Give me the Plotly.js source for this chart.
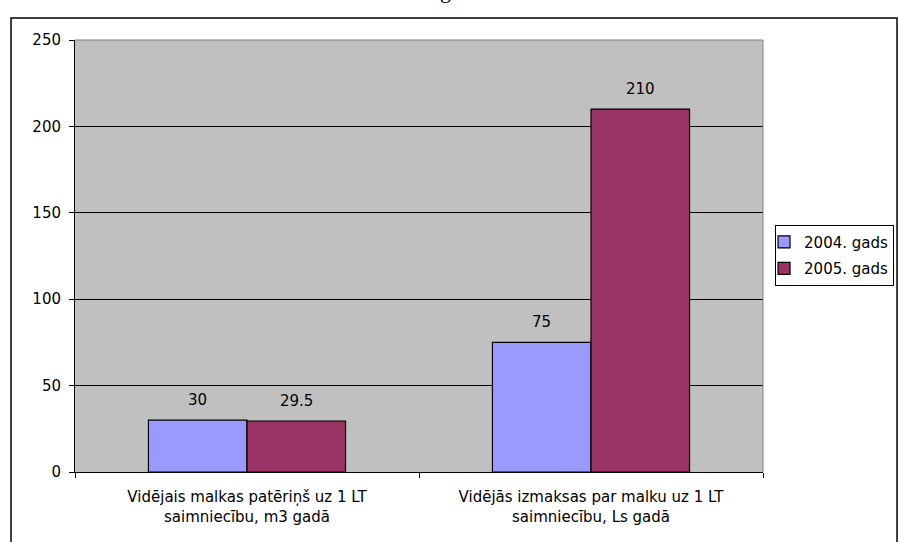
<!DOCTYPE html>
<html><head><meta charset="utf-8">
<script src="https://cdn.plot.ly/plotly-3.0.1.min.js"></script>
<style>html,body{margin:0;padding:0;background:#fff;overflow:hidden;}</style>
</head><body><div id="chart" style="width:899px;height:542px;"></div>
<script>
var categories = ["Vidējais malkas patēriņš uz 1 LT<br>saimniecību, m3 gadā", "Vidējās izmaksas par malku uz 1 LT<br>saimniecību, Ls gadā"];
var series2004 = [30, 75];
var series2005 = [29.5, 210];
var seriesNames = ["2004. gads", "2005. gads"];
var yTicks = [0, 50, 100, 150, 200, 250];

var font = {family: "DejaVu Sans, Verdana, sans-serif", size: 15, color: "#000"};
var bargap = 0.427;
var half = (1 - bargap) / 4;

var traces = [
  {type: "bar", name: seriesNames[0], legendgroup: "a", x: categories, y: series2004,
   marker: {color: "#9999FF", line: {color: "#000", width: 1.2}}},
  {type: "bar", name: seriesNames[1], legendgroup: "b", x: categories, y: series2005,
   marker: {color: "#993366", line: {color: "#000", width: 1.2}}}
];

var annotations = [];
[series2004, series2005].forEach(function (s, si) {
  s.forEach(function (v, ci) {
    annotations.push({xref: "x", yref: "y", x: ci + (si === 0 ? -half : half), y: v,
      text: String(v), showarrow: false, yanchor: "bottom", xanchor: "center", yshift: 9, font: font});
  });
});
annotations.push({text: "g", xref: "paper", yref: "paper", x: 0.538, y: 1.08, xanchor: "center", yanchor: "bottom",
  showarrow: false, font: {family: "Liberation Serif, Times New Roman, serif", size: 22, color: "#000"}});

var layout = {
  width: 899, height: 542,
  margin: {l: 75, r: 136, t: 40, b: 70, autoexpand: false},
  paper_bgcolor: "#fff", plot_bgcolor: "#C0C0C0",
  barmode: "group", bargap: bargap, bargroupgap: 0,
  font: font,
  showlegend: true,
  legend: {x: 1.0175, xanchor: "left", y: 0.502, yanchor: "middle", bordercolor: "#000", borderwidth: 1,
           bgcolor: "#fff", font: font, traceorder: "grouped", tracegroupgap: 4, itemwidth: 30,
           indentation: -12},
  xaxis: {type: "category", tickson: "boundaries", ticks: "outside", ticklen: 5, tickcolor: "#000",
          showline: true, linecolor: "#000", linewidth: 1, tickfont: font, showgrid: false, automargin: false,
          ticklabelstandoff: 11},
  yaxis: {range: [0, 250], tickvals: yTicks, ticktext: yTicks.map(String), ticks: "outside", ticklen: 5,
          tickcolor: "#000", showline: true, linecolor: "#000", gridcolor: "#000", gridwidth: 1,
          tickfont: font, zeroline: false, automargin: false, ticklabelstandoff: 5},
  shapes: [
    {type: "rect", xref: "paper", yref: "paper", x0: -0.093, x1: 1.1948, y0: -0.2, y1: 1.0509,
     line: {color: "#000", width: 1.5}, fillcolor: "rgba(0,0,0,0)", layer: "below"},
    {type: "line", xref: "paper", yref: "paper", x0: 1, x1: 1, y0: 0, y1: 1, line: {color: "#808080", width: 1}},
    {type: "line", xref: "paper", yref: "paper", x0: 0, x1: 1, y0: 1, y1: 1, line: {color: "#808080", width: 1}}
  ],
  annotations: annotations
};
Plotly.newPlot("chart", traces, layout, {displayModeBar: false, staticPlot: true});
</script></body></html>
